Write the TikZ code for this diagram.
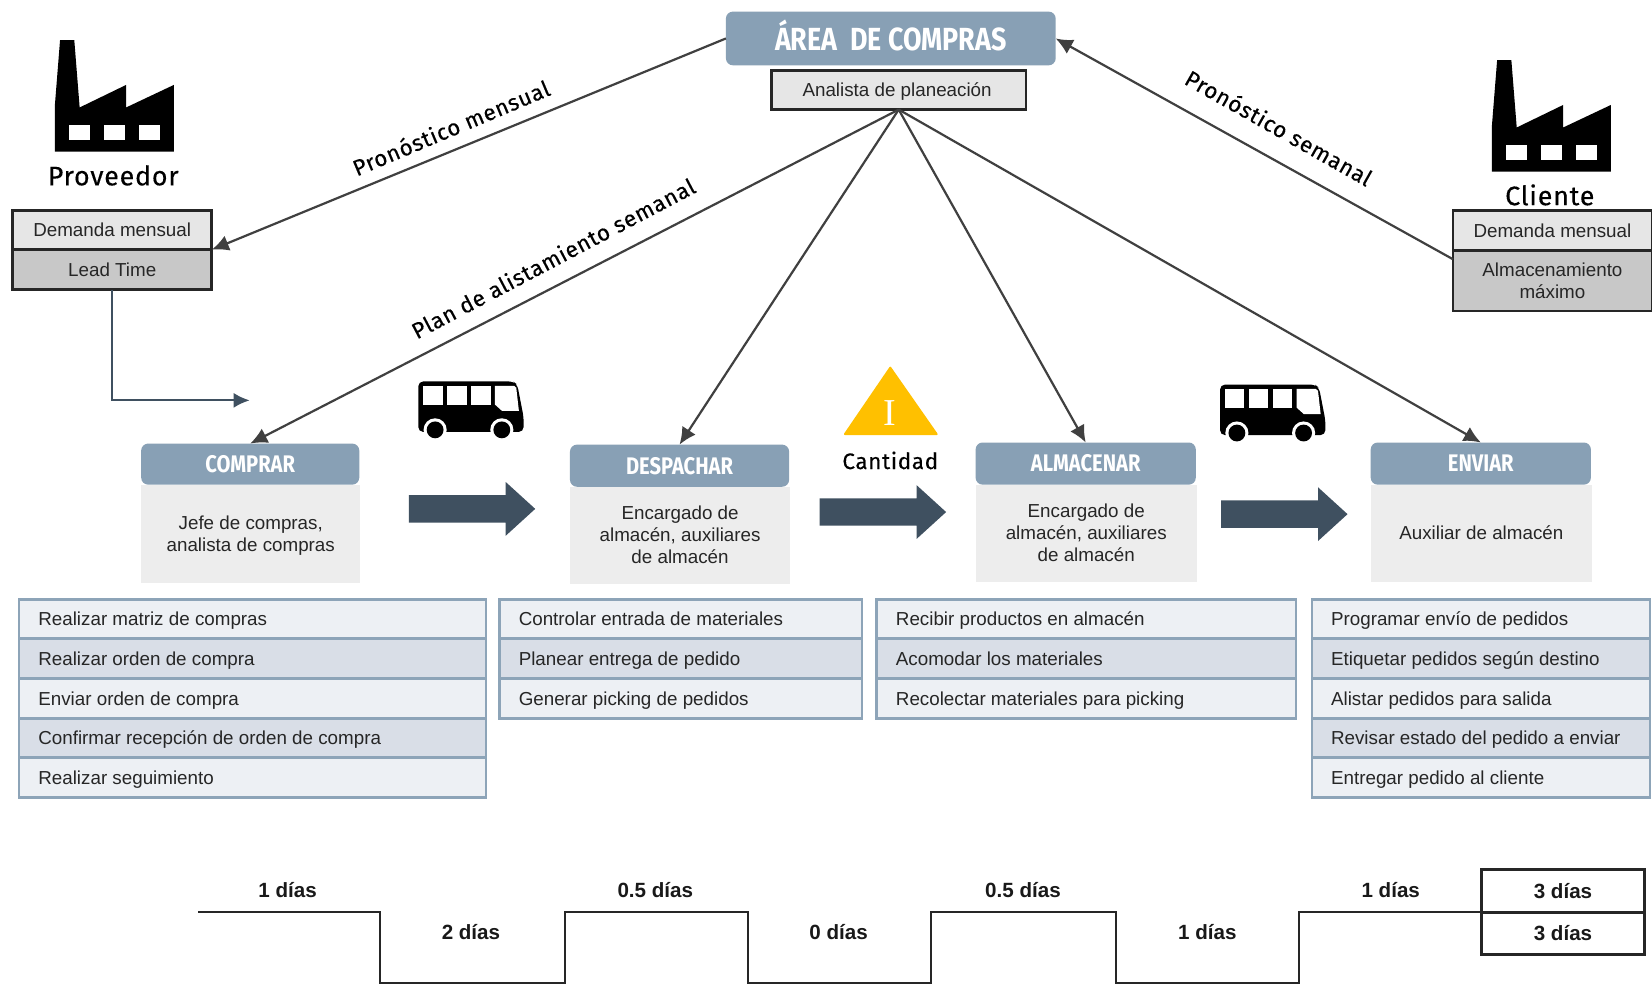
\documentclass[tikz,border=0pt]{standalone}
\usepackage{fontspec}
\usetikzlibrary{arrows.meta}
\setmainfont{Liberation Sans}
\newfontfamily\headfont[FakeStretch=0.84]{Fira Sans}
\newfontfamily\labfont[LetterSpace=3,FakeBold=0.25]{Fira Sans}
\newfontfamily\ifont{Liberation Serif}
\definecolor{headblue}{HTML}{88A0B5}
\definecolor{listedge}{HTML}{8DA4B8}
\definecolor{listA}{HTML}{EDF0F4}
\definecolor{listB}{HTML}{D9DEE7}
\definecolor{cardbody}{HTML}{EDEDED}
\definecolor{boxA}{HTML}{E6E6E6}
\definecolor{boxB}{HTML}{C8C8C8}
\definecolor{slate}{HTML}{3F5060}
\definecolor{flowline}{HTML}{404040}
\definecolor{txt}{HTML}{262626}
\definecolor{amber}{HTML}{FFC000}
\newcommand{\ux}{0.5268pt}
% name, x1, y1, x2, y2, style, text
\newcommand{\bx}[7]{%
  \node[#6,minimum width={(#4-#2)*\ux},minimum height={(#5-#3)*\ux}] (#1) at ({(#2+#4)/2},{(#3+#5)/2}) {#7};}
\tikzset{
  x=0.5268pt,y=-0.5268pt,
  base/.style={rectangle,inner sep=0pt,outer sep=0pt,text=txt,font=\fontsize{9.4}{11}\selectfont,align=center},
  blackA/.style={base,draw=black!85,line width=1.3pt,fill=boxA},
  blackB/.style={base,draw=black!85,line width=1.3pt,fill=boxB},
  cardhead/.style={base,fill=headblue,rounded corners=3.5pt,text=white,font=\headfont\bfseries\fontsize{12}{14}\selectfont},
  areahead/.style={cardhead,font=\headfont\bfseries\fontsize{16}{18}\selectfont},
  cardbody/.style={base,fill=cardbody},
  rowcell/.style={base,draw=listedge,line width=1.2pt},
  rowtext/.style={text=txt,font=\fontsize{9.4}{11}\selectfont,anchor=base west,inner sep=0pt},
  flow/.style={draw=flowline,line width=1.1pt,-{Latex[length=8.5pt,width=8pt]}},
  lab/.style={font=\labfont\fontsize{11.2}{13}\selectfont,text=black,inner sep=0pt},
  bold/.style={font=\bfseries\fontsize{10.3}{12}\selectfont,text=black!90,inner sep=0pt},
  tcell/.style={base,draw=black!85,line width=1.3pt,font=\bfseries\fontsize{10.3}{12}\selectfont,text=black!90},
  tline/.style={draw=black!85,line width=1.05pt},
  factory/.pic={
    \fill[black] (5,0)--(18.5,0)--(23.6,64)--(67.7,42.6)--(67.7,64)--(113,42.6)--(113,106)--(0,106)--(0,63)--cycle;
    \fill[white] (13.2,80.8) rectangle (33.6,95.2);
    \fill[white] (46.5,80.8) rectangle (66.8,95.2);
    \fill[white] (79.7,80.8) rectangle (99.7,95.2);
  },
  bus/.pic={
    \fill[black,rounded corners=2.5pt] (0,0)--(90,0)--(94,3)--(100,34)--(100,48)--(0,48)--cycle;
    \fill[white] (4.7,4.2) rectangle (23,22);
    \fill[white] (27.6,4.2) rectangle (45.8,22);
    \fill[white] (50.5,4.2) rectangle (68.7,22);
    \fill[white] (72.8,4.2)--(91,4.2)--(93,6)--(95.5,28)--(79.5,28)--(72.8,22)--cycle;
    \fill[white] (16,46) circle[radius=11];
    \fill[white] (79.3,46) circle[radius=11];
    \fill[black] (16,46) circle[radius=8];
    \fill[black] (79.3,46) circle[radius=8];
  },
  bigarrow/.pic={
    \fill[slate] (0,-13)--(92,-13)--(92,-25.5)--(120,0)--(92,25.5)--(92,13)--(0,13)--cycle;
  }
}
\begin{document}
\begin{tikzpicture}
\useasboundingbox[fill=white] (0,0) rectangle (1568,934);

% factories
\pic at (52,38) {factory};
\pic at (1416,57) {factory};
\node[lab,font=\labfont\fontsize{13.4}{15}\selectfont] (provlab) at (107.5,166.5) {Proveedor};
\node[lab,font=\labfont\fontsize{13.4}{15}\selectfont] (clilab) at (1471,185) {Cliente};

% top
\bx{area}{689}{11}{1002}{62}{areahead}{\raisebox{3.4pt}{ÁREA\ \ DE COMPRAS}}
\bx{anal}{732}{67}{974}{104}{blackA}{\hspace*{-1.6pt}\rule{0pt}{8.4pt}Analista de planeación}

% supplier and client tables
\bx{prova}{12}{200}{201}{237}{blackA}{Demanda mensual}
\bx{provb}{12}{237}{201}{275}{blackB}{Lead Time}
\bx{clia}{1379}{200}{1568}{238}{blackA}{Demanda mensual}
\bx{clib}{1379}{238}{1568}{295}{blackB}{Almacenamiento\\máximo}

% cards
\bx{h1}{134}{421}{341}{460}{cardhead}{COMPRAR}
\bx{b1}{134}{460}{342}{553}{cardbody}{\rule{0pt}{9pt}Jefe de compras,\\analista de compras}
\bx{h2}{541}{422}{749}{462}{cardhead}{DESPACHAR}
\bx{b2}{541}{462}{750}{554}{cardbody}{Encargado de\\almacén, auxiliares\\de almacén}
\bx{h3}{926}{420}{1135}{460}{cardhead}{ALMACENAR}
\bx{b3}{926}{460}{1136}{552}{cardbody}{Encargado de\\almacén, auxiliares\\de almacén}
\bx{h4}{1301}{420}{1510}{460}{cardhead}{ENVIAR}
\bx{b4}{1301}{460}{1511}{552}{cardbody}{Auxiliar de almacén}

% connectors
\coordinate (cliout) at (1379,246);
\coordinate (leadend) at (237,380);
\draw[flow] (area.west) -- (prova.south east);
\draw[flow] (cliout) -- (area.east);
\draw[flow] (anal.south) -- (h1.north);
\draw[flow] (anal.south) -- (h2.north);
\draw[flow] (anal.south) -- (h3.north);
\draw[flow] (anal.south) -- (h4.north);
\draw[draw=slate,line width=1.1pt,-{Latex[length=8pt,width=7.5pt]}] (provb.south) |- (leadend);

% connector labels
\node[lab,rotate=22.8] (l1) at (428,121) {Pronóstico mensual};
\node[lab,rotate=-29.5] (l2) at (1214,121) {Pronóstico semanal};
\node[lab,rotate=27.8] (l3) at (525,245) {Plan de alistamiento semanal};

% buses and flow arrows
\pic at (397,362) {bus};
\pic at (1158,365) {bus};
\pic at (388,483) {bigarrow};
\pic at (778,486) {bigarrow};
\pic at (1159,488) {bigarrow};

% inventory
\fill[fill=amber,draw=amber,line width=1pt,line join=round] (845,349) -- (889,412) -- (802,412) -- cycle;
\node[inner sep=0pt,text=white,font=\ifont\fontsize{19}{21}\selectfont] (inv) at (845,392) {I};
\node[lab] (cant) at (845,437) {Cantidad};

% lists
\foreach \nm/\xa/\xb/\ya/\yb/\fillc/\tx in {
 a1/18/461/569/606/listA/Realizar matriz de compras,
 a2/18/461/606/644/listB/Realizar orden de compra,
 a3/18/461/644/682/listA/Enviar orden de compra,
 a4/18/461/682/719/listB/Confirmar recepción de orden de compra,
 a5/18/461/719/757/listA/Realizar seguimiento,
 c1/474/818/569/606/listA/Controlar entrada de materiales,
 c2/474/818/606/644/listB/Planear entrega de pedido,
 c3/474/818/644/682/listA/Generar picking de pedidos,
 d1/832/1230/569/606/listA/Recibir productos en almacén,
 d2/832/1230/606/644/listB/Acomodar los materiales,
 d3/832/1230/644/682/listA/Recolectar materiales para picking,
 e1/1245/1566/569/606/listA/Programar envío de pedidos,
 e2/1245/1566/606/644/listB/Etiquetar pedidos según destino,
 e3/1245/1566/644/682/listA/Alistar pedidos para salida,
 e4/1245/1566/682/719/listB/Revisar estado del pedido a enviar,
 e5/1245/1566/719/757/listA/Entregar pedido al cliente}{
  \bx{\nm}{\xa}{\ya}{\xb}{\yb}{rowcell,fill=\fillc}{}
  \node[rowtext] at ([xshift={18*0.5268pt},yshift={-6.5*0.5268pt}]\nm.west) {\tx};
}

% timeline
\bx{ta}{1406}{825}{1561}{866}{tcell}{3 días}
\bx{tb}{1406}{866}{1561}{906}{tcell}{3 días}
\coordinate (tstart) at (188,866);
\draw[tline] (tstart) -- (361,866) -- (361,933) -- (536,933) -- (536,866) -- (710,866) -- (710,933) -- (884,933) -- (884,866) -- (1059,866) -- (1059,933) -- (1233,933) -- (1233,866) -- (ta.south west);
\node[bold] (t1) at (273,845) {1 días};
\node[bold] (t2) at (447,885) {2 días};
\node[bold] (t3) at (622,845) {0.5 días};
\node[bold] (t4) at (796,885) {0 días};
\node[bold] (t5) at (971,845) {0.5 días};
\node[bold] (t6) at (1146,885) {1 días};
\node[bold] (t7) at (1320,845) {1 días};
\end{tikzpicture}
\end{document}
